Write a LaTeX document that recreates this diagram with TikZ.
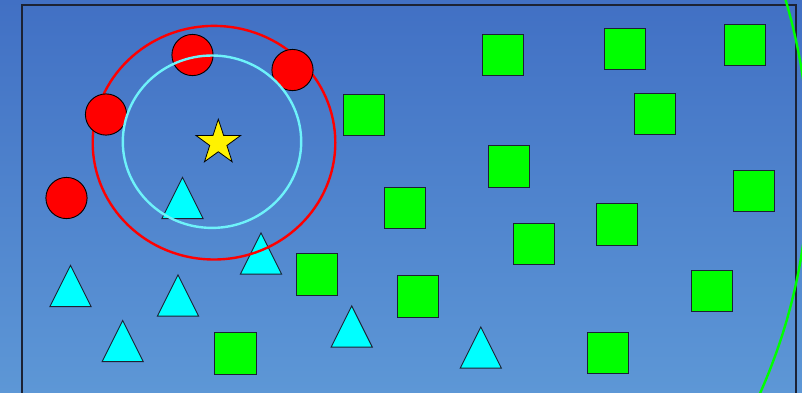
\documentclass[tikz,border=0pt]{standalone}
\usepackage{xcolor}
\usepackage{tikz}
\usetikzlibrary{shapes.geometric}
\definecolor{bgtop}{RGB}{65,112,196}
\definecolor{bgbot}{RGB}{93,151,214}
\definecolor{edge}{RGB}{28,34,52}
\definecolor{ringcyan}{RGB}{110,242,250}
\definecolor{aqua}{RGB}{0,255,255}
\definecolor{lime}{RGB}{0,255,0}
\tikzset{
  sq/.style={draw=edge,fill=lime,line width=0.9pt,minimum size=41.2pt,inner sep=0pt},
  dot/.style={circle,draw=black,fill=red,line width=0.9pt,minimum size=41.2pt,inner sep=0pt},
  target/.style={star,star points=5,star point ratio=2.6,draw=black,fill=yellow,line width=0.8pt,minimum size=47pt,inner sep=0pt},
  tri/.pic={\draw[edge,fill=aqua,line width=0.9pt,line join=miter] (0,-20.6) -- (20.6,20.6) -- (-20.6,20.6) -- cycle;},
  ring/.style={line width=2.4pt}
}
\begin{document}
\begin{tikzpicture}[x=1pt,y=-1pt]
    \useasboundingbox (0,0) rectangle (802,392);
    \clip (0,0) rectangle (802,392);
    \fill[top color=bgtop,bottom color=bgbot] (0,0) rectangle (802,392);
    \draw[edge,line width=1.4pt] (22,5) rectangle (796,420);
    % triangles
    \pic (c1) at (182.5,198) {tri};
    \pic (c2) at (261,253.5) {tri};
    \pic (c3) at (70.5,286) {tri};
    \pic (c4) at (178,295.5) {tri};
    \pic (c5) at (122.7,341) {tri};
    \pic (c6) at (351.7,326.5) {tri};
    \pic (c7) at (480.8,347.5) {tri};
    % squares
    \node[sq] (g1) at (503,55) {};
    \node[sq] (g2) at (624.7,49.2) {};
    \node[sq] (g3) at (745,45.2) {};
    \node[sq] (g4) at (363.7,115.3) {};
    \node[sq] (g5) at (655.3,114.3) {};
    \node[sq] (g6) at (509.3,166.5) {};
    \node[sq] (g7) at (754.3,190.7) {};
    \node[sq] (g8) at (404.7,208) {};
    \node[sq] (g9) at (616.7,224.5) {};
    \node[sq] (g10) at (533.7,243.8) {};
    \node[sq] (g11) at (317,274.5) {};
    \node[sq] (g12) at (418,296.5) {};
    \node[sq] (g13) at (712,291) {};
    \node[sq] (g14) at (235.5,353.5) {};
    \node[sq] (g15) at (607.7,352.8) {};
    % rings and points
    \draw[ring,red] (214,142.7) ellipse [x radius=121.3,y radius=116.8];
    \node[dot] (r1) at (192.5,55) {};
    \node[dot] (r2) at (292.5,70) {};
    \node[dot] (r3) at (106,114.5) {};
    \node[dot] (r4) at (66.5,198) {};
    \draw[ring,ringcyan] (212,141.7) ellipse [x radius=89.2,y radius=86.2];
    \node[target] (centre) at (218.3,142.7) {};
    \draw[ring,lime] (240,162) circle [radius=569];
\end{tikzpicture}
\end{document}
